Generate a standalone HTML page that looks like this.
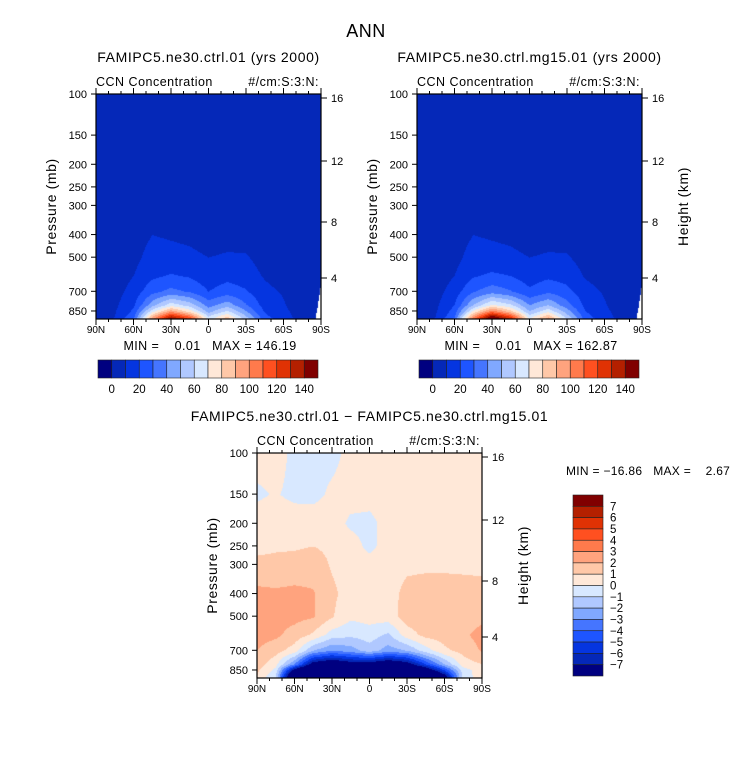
<!DOCTYPE html>
<html><head><meta charset="utf-8">
<style>
body{margin:0;background:#fff;}
#root{position:relative;width:733px;height:773px;overflow:hidden;font-family:"Liberation Sans",sans-serif;}
svg text{font-family:"Liberation Sans",sans-serif;fill:#000;white-space:pre;}
canvas{position:absolute;}
</style></head>
<body>
<div id="root">
<canvas id="c1" width="225" height="225" style="left:96px;top:94px"></canvas>
<canvas id="c2" width="225" height="225" style="left:417px;top:94px"></canvas>
<canvas id="c3" width="225" height="225" style="left:257px;top:453px"></canvas>
<svg id="s" width="733" height="773" style="position:absolute;left:0;top:0"></svg>
</div>
<script>
const lats=[90,75,60,45,30,15,0,-15,-30,-45,-60,-75,-90];
const presA=[100,200,300,400,500,600,700,800,850,900,920];
const ctrlVals=[
[1,1,1,1,1,1,1,1,1,1,1,1,1],
[1,1,1,1,1,1,1,1,1,1,1,1,1],
[2,2,2,2,2,2,2,2,2,2,2,2,2],
[3,3,5,10,9,8,6,7,6,4,3,3,3],
[1,2,7,14,13,12,10,11,11,6,3,1,1],
[1,4,10,18,21,19,14,17,15,9,5,2,1],
[1,6,14,27,33,29,20,25,21,13,9,3,1],
[2,8,18,46,66,56,36,46,31,16,11,4,2],
[3,9,22,66,96,76,46,62,41,19,12,6,3],
[3,10,27,91,136,112,62,82,52,23,13,7,3],
[3,11,31,101,146,121,66,86,56,26,14,8,3]];
const mg15Vals=[
[1,1,1,1,1,1,1,1,1,1,1,1,1],
[1,1,1,1,1,1,1,1,1,1,1,1,1],
[2,2,2,2,2,2,2,2,2,2,2,2,2],
[3,3,5,10,9,8,6,7,6,4,3,3,3],
[1,2,7,14,13,12,10,11,11,6,3,1,1],
[1,4,10,19,22,20,15,18,16,9,5,2,1],
[1,6,15,29,36,31,22,28,23,14,9,3,1],
[2,8,20,50,72,62,40,50,34,17,11,4,2],
[3,9,24,72,105,84,50,67,45,20,12,6,3],
[3,10,29,100,150,122,66,90,56,24,13,7,3],
[3,11,33,112,162,132,72,95,60,27,14,8,3]];
const presD=[100,150,200,250,300,400,500,600,700,800,850,900,920];
const diffVals=[
[0.5,0.5,-0.3,-0.4,-0.3,0.3,0.5,0.5,0.5,0.5,0.5,0.5,0.5],
[-0.2,0.1,-0.3,-0.3,0.2,0.4,0.4,0.5,0.5,0.5,0.5,0.5,0.5],
[0.6,0.7,0.7,0.6,0.5,-0.2,-0.3,0.4,0.6,0.6,0.6,0.6,0.6],
[0.8,0.9,0.9,1.0,0.8,0.5,-0.3,0.5,0.7,0.7,0.7,0.7,0.7],
[1.2,1.2,1.3,1.5,0.9,0.6,0.5,0.6,0.8,0.8,0.8,0.8,0.8],
[2.3,2.2,2.3,2.1,1.2,0.6,0.5,0.6,1.3,1.5,1.5,1.4,1.3],
[2.4,2.3,2.3,2.1,1.1,0.2,0.4,0.5,1.5,1.6,1.6,1.5,1.7],
[2.4,2.2,1.6,0.8,-0.5,-0.8,-0.5,-1.2,0.5,1.3,1.4,1.8,2.4],
[2.0,1.4,0.5,-2,-3,-2.5,-1.5,-2.5,-2,-0.5,0.8,1.3,2.1],
[1.5,0.3,-3,-8,-9,-8,-8,-9,-8,-5,-2,0.5,1],
[1.2,-0.3,-8,-12,-13,-12,-12,-13,-11,-9,-5,-0.5,0.6],
[1,-1,-11,-16,-17,-16,-15,-16,-14,-12,-8,-0.5,0.5],
[1,-1,-11,-16,-17,-16,-15,-16,-14,-12,-8,-0.5,0.5]];
const colors=["#000080","#0528b8","#0535e0","#1e55ff","#4575ff","#80a8ff","#b0c8ff","#d8e8ff","#ffe8d8","#ffc8a8","#ffa37e","#ff7a4c","#ff5020","#e03204","#b42000","#800000"];
const absLabels=["0","20","40","60","80","100","120","140"];
const diffLabels=["7","6","5","4","3","2","1","0","\u22121","\u22122","\u22123","\u22124","\u22125","\u22126","\u22127"];
const latTicks=[90,60,30,0,-30,-60,-90];
const latLabels=["90N","60N","30N","0","30S","60S","90S"];
const presTicks=[100,150,200,250,300,400,500,700,850];
const kmTicks=[16,12,8,4];
const kmY=[4,67,128,184];

const W=225,H=225,PMIN=100,PMAX=920;
function xOf(lat){return (90-lat)/180*W;}
function yOf(p){return Math.log(p/PMIN)/Math.log(PMAX/PMIN)*H;}
function interp(grid,pres,lat,p){
  let lp=Math.log(p),r=0;
  while(r<pres.length-2&&Math.log(pres[r+1])<lp)r++;
  let ty=(lp-Math.log(pres[r]))/(Math.log(pres[r+1])-Math.log(pres[r]));ty=Math.max(0,Math.min(1,ty));
  let c=Math.min(lats.length-2,Math.floor((90-lat)/15));let tx=((90-lat)-c*15)/15;
  let a=grid[r][c]*(1-tx)+grid[r][c+1]*tx,b=grid[r+1][c]*(1-tx)+grid[r+1][c+1]*tx;
  return a*(1-ty)+b*ty;
}
function hex(h){return [parseInt(h.substr(1,2),16),parseInt(h.substr(3,2),16),parseInt(h.substr(5,2),16)];}
const rgb=colors.map(hex);
function draw(id,grid,pres,lvl,missing){
  const ctx=document.getElementById(id).getContext('2d');
  const img=ctx.createImageData(W,H);
  for(let y=0;y<H;y++){const p=PMIN*Math.exp(y/H*Math.log(PMAX/PMIN));
    for(let x=0;x<W;x++){const lat=90-(x+0.5)/W*180;
      let col=rgb[lvl(interp(grid,pres,lat,p))];
      if(missing&&lat<-83&&p>650+(lat+90)*60)col=[255,255,255];
      const i=(y*W+x)*4;img.data[i]=col[0];img.data[i+1]=col[1];img.data[i+2]=col[2];img.data[i+3]=255;}}
  ctx.putImageData(img,0,0);
}
const absLvl=v=>v<0?0:Math.min(15,Math.floor(v/10)+1);
const diffLvl=v=>v<-7?0:(v>=7?15:Math.floor(v)+8);
draw('c1',ctrlVals,presA,absLvl,true);
draw('c2',mg15Vals,presA,absLvl,true);
draw('c3',diffVals,presD,diffLvl,false);

const NS="http://www.w3.org/2000/svg";
const svg=document.getElementById('s');
function el(tag,at,txt){const e=document.createElementNS(NS,tag);for(const k in at)e.setAttribute(k,at[k]);if(txt!==undefined)e.textContent=txt;svg.appendChild(e);return e;}
function txt(x,y,s,size,anchor,name,ls){const t=el('text',{x:x,y:y,'font-size':size,'text-anchor':anchor||'start','letter-spacing':ls||0},s);

return t;}
function panel(ox,oy,title,pref,showH){
  const f=el('rect',{x:ox,y:oy,width:W,height:H,fill:'none',stroke:'#000','stroke-width':1.2});
  
  
  for(let l=90;l>=-90;l-=10){const x=ox+xOf(l);const major=latTicks.includes(l);const len=major?6:3;
    el('line',{x1:x,y1:oy+H,x2:x,y2:oy+H+len,stroke:'#000'});el('line',{x1:x,y1:oy,x2:x,y2:oy-len,stroke:'#000'});}
  latTicks.forEach((l,i)=>txt(ox+xOf(l),oy+H+14,latLabels[i],10,'middle',pref+'-x-tick-label'));
  presTicks.forEach(p=>{const y=oy+yOf(p);el('line',{x1:ox,y1:y,x2:ox-5,y2:y,stroke:'#000'});txt(ox-9,y+4,String(p),11,'end',pref+'-y-tick-label');});
  kmTicks.forEach((k,i)=>{const y=oy+kmY[i];el('line',{x1:ox+W,y1:y,x2:ox+W+6,y2:y,stroke:'#000'});txt(ox+W+10,y+4,String(k),11,'start',pref+'-km-tick-label');});
  txt(ox+W/2,oy-32,title,14,'middle',pref+'-title',0.6);
  txt(ox,oy-8,'CCN Concentration',12.5,'start',pref+'-variable-label',0.5);
  txt(ox+W-2,oy-8,'#/cm:S:3:N:',12.5,'end',pref+'-units-label',0.5);
  const yl=txt(0,0,'Pressure (mb)',14,'middle',pref+'-y-axis-title',0.6);yl.setAttribute('transform','translate('+(ox-40)+','+(oy+H/2)+') rotate(-90)');
  if(showH){const hl=txt(0,0,'Height (km)',14,'middle',pref+'-height-axis-title',0.6);hl.setAttribute('transform','translate('+(ox+W+46)+','+(oy+H/2)+') rotate(-90)');}
}
txt(366,37,'ANN',18,'middle','main-title',0.5);
panel(96,94,'FAMIPC5.ne30.ctrl.01 (yrs 2000)','ctrl',false);
panel(417,94,'FAMIPC5.ne30.ctrl.mg15.01 (yrs 2000)','mg15',true);
panel(257,453,'FAMIPC5.ne30.ctrl.01 \u2212 FAMIPC5.ne30.ctrl.mg15.01','diff',true);
txt(210,350,'MIN =    0.01   MAX = 146.19',12.5,'middle','ctrl-min-max',0.4);
txt(531,350,'MIN =    0.01   MAX = 162.87',12.5,'middle','mg15-min-max',0.4);
txt(566,475,'MIN = \u221216.86   MAX =    2.67',12,'start','diff-min-max',0.3);
function hbar(ox,pref){const bw=220/16;
  colors.forEach((c,i)=>{const r=el('rect',{x:ox+i*bw,y:360,width:bw,height:18,fill:c,stroke:'#222','stroke-width':0.6});
  
  });
  absLabels.forEach((s,i)=>txt(ox+bw*(1+2*i),393,s,11.5,'middle',pref+'-colorbar-label'));}
hbar(98,'ctrl');hbar(419,'mg15');
const bh=181/16;
colors.slice().reverse().forEach((c,i)=>{const r=el('rect',{x:573,y:495+i*bh,width:30,height:bh,fill:c,stroke:'#222','stroke-width':0.6});

});
diffLabels.forEach((s,i)=>txt(610,495+bh*(i+1)+4,s,11.5,'start','diff-colorbar-label'));
</script>
</body></html>
